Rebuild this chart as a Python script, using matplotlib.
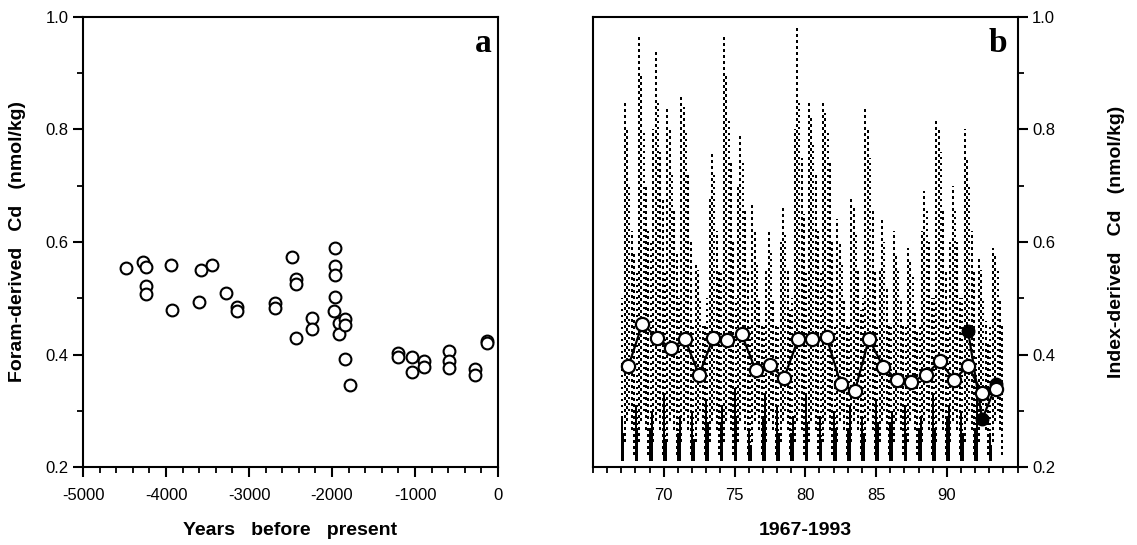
import matplotlib
matplotlib.use("Agg")
import matplotlib.pyplot as plt
from matplotlib.ticker import MultipleLocator

plt.rcParams["font.family"] = ["Liberation Sans", "DejaVu Sans"]

# (a) foram-derived Cd, years before present
foram_age = [-4478, -4277, -4237, -4237, -4237, -3936, -3924, -3582, -3446, -3606,
             -3281, -3145, -3145, -2691, -2691, -2478, -2438, -2438, -2438, -2241,
             -2241, -1968, -1968, -1968, -1968, -1972, -1916, -1916, -1839, -1839,
             -1843, -1787, -1205, -1205, -1036, -1036, -892, -892, -590, -590,
             -590, -273, -273, -129, -129]
foram_cd = [0.553, 0.565, 0.556, 0.522, 0.508, 0.559, 0.480, 0.550, 0.559, 0.494,
            0.510, 0.485, 0.477, 0.491, 0.483, 0.573, 0.535, 0.525, 0.430, 0.465,
            0.446, 0.590, 0.557, 0.541, 0.502, 0.477, 0.456, 0.437, 0.464, 0.452,
            0.392, 0.346, 0.402, 0.395, 0.395, 0.369, 0.389, 0.377, 0.406, 0.389,
            0.376, 0.374, 0.364, 0.424, 0.421]

# (b) index-derived Cd, 1967-1993
years = list(range(1967, 1994))
annual_mean = [0.379, 0.455, 0.430, 0.411, 0.427, 0.364, 0.430, 0.425, 0.436, 0.372,
               0.381, 0.358, 0.428, 0.428, 0.431, 0.348, 0.335, 0.428, 0.378, 0.355,
               0.351, 0.364, 0.388, 0.355, 0.380, 0.331, 0.338]
alt_years = [1991, 1992, 1993]
alt_mean = [0.442, 0.285, 0.347]

# within-year spread of the daily record: sampling times and upper/lower bounds
season = [0.08, 0.25, 0.42, 0.58, 0.75, 0.92]
daily_hi = [
    [0.50, 0.85, 0.80, 0.70, 0.62, 0.58],
    [0.55, 0.97, 0.90, 0.80, 0.70, 0.62],
    [0.60, 0.80, 0.94, 0.85, 0.76, 0.68],
    [0.55, 0.84, 0.80, 0.72, 0.66, 0.58],
    [0.50, 0.86, 0.84, 0.80, 0.72, 0.60],
    [0.45, 0.56, 0.55, 0.50, 0.45, 0.45],
    [0.50, 0.68, 0.76, 0.72, 0.62, 0.55],
    [0.55, 0.97, 0.90, 0.82, 0.74, 0.60],
    [0.50, 0.70, 0.79, 0.74, 0.66, 0.55],
    [0.45, 0.67, 0.62, 0.56, 0.50, 0.45],
    [0.45, 0.55, 0.62, 0.58, 0.50, 0.45],
    [0.45, 0.60, 0.66, 0.62, 0.55, 0.48],
    [0.50, 0.80, 0.98, 0.85, 0.75, 0.65],
    [0.55, 0.85, 0.82, 0.78, 0.72, 0.62],
    [0.55, 0.85, 0.83, 0.80, 0.74, 0.60],
    [0.45, 0.64, 0.60, 0.56, 0.50, 0.45],
    [0.45, 0.68, 0.66, 0.62, 0.55, 0.48],
    [0.50, 0.84, 0.80, 0.75, 0.66, 0.55],
    [0.45, 0.55, 0.64, 0.60, 0.52, 0.45],
    [0.45, 0.62, 0.58, 0.55, 0.50, 0.45],
    [0.45, 0.59, 0.57, 0.54, 0.48, 0.44],
    [0.45, 0.62, 0.69, 0.66, 0.60, 0.50],
    [0.50, 0.82, 0.80, 0.76, 0.66, 0.55],
    [0.45, 0.60, 0.70, 0.66, 0.60, 0.50],
    [0.50, 0.80, 0.75, 0.70, 0.62, 0.55],
    [0.40, 0.57, 0.55, 0.50, 0.46, 0.42],
    [0.45, 0.59, 0.58, 0.55, 0.50, 0.45],
]
daily_lo = [0.21, 0.24, 0.28, 0.30, 0.26, 0.22]
# dense winter minima: two strokes per year
winter_t = [0.02, 0.14]
winter_hi = [
    [0.29, 0.26], [0.31, 0.27], [0.27, 0.30], [0.33, 0.25], [0.26, 0.29],
    [0.30, 0.25], [0.32, 0.28], [0.28, 0.31], [0.34, 0.29], [0.27, 0.24],
    [0.29, 0.33], [0.31, 0.26], [0.26, 0.29], [0.33, 0.28], [0.29, 0.25],
    [0.30, 0.27], [0.27, 0.31], [0.29, 0.26], [0.32, 0.28], [0.28, 0.30],
    [0.31, 0.26], [0.27, 0.29], [0.33, 0.27], [0.29, 0.31], [0.30, 0.26],
    [0.27, 0.33], [0.26, 0.24],
]

fig = plt.figure(figsize=(11.37, 5.45), dpi=100)
ax_a = fig.add_axes([0.073, 0.143, 0.365, 0.826])
ax_b = fig.add_axes([0.5215, 0.143, 0.3735, 0.826])

# ---- panel a
ax_a.plot(foram_age, foram_cd, "o", mfc="white", mec="black", mew=1.5, ms=8.5)
ax_a.set_xlim(-5000, 0)
ax_a.set_ylim(0.2, 1.0)
ax_a.set_xticks([-5000, -4000, -3000, -2000, -1000, 0])
ax_a.set_xticklabels(["-5000", "-4000", "-3000", "-2000", "-1000", "0"])
ax_a.xaxis.set_minor_locator(MultipleLocator(200))
ax_a.set_ylabel("Foram-derived   Cd   (nmol/kg)", fontsize=14, fontweight="bold", labelpad=14)
ax_a.set_xlabel("Years   before   present", fontsize=14, fontweight="bold", labelpad=14)
ax_a.text(0.985, 0.975, "a", transform=ax_a.transAxes, ha="right", va="top",
          family="Liberation Serif", fontsize=24, fontweight="bold")

# ---- panel b: daily record as dotted columns, dense winter minima as solid strokes
for i, yr in enumerate(years):
    x0 = yr - 1900
    for j, s in enumerate(season):
        ax_b.vlines(x0 + s, daily_lo[j], daily_hi[i][j], colors="black", linewidth=1.3,
                    linestyles=[(1.2 * (j % 3), (1.0, 2.6))], antialiased=False)
    ax_b.vlines([x0 + t for t in winter_t], 0.21, winter_hi[i], colors="black",
                linewidth=1.2, antialiased=False)

ax_b.plot([y - 1900 + 0.5 for y in alt_years], alt_mean, "-o", color="black",
          mfc="black", mec="black", lw=1.6, ms=9, zorder=3)
ax_b.plot([y - 1900 + 0.5 for y in years], annual_mean, "-o", color="black",
          mfc="white", mec="black", mew=1.6, lw=1.6, ms=9.5, zorder=4)
ax_b.set_xlim(65, 95)
ax_b.set_ylim(0.2, 1.0)
ax_b.set_xticks([70, 75, 80, 85, 90])
ax_b.xaxis.set_minor_locator(MultipleLocator(1))
ax_b.yaxis.tick_right()
ax_b.yaxis.set_label_position("right")
ax_b.set_ylabel("Index-derived   Cd   (nmol/kg)", fontsize=14, fontweight="bold", labelpad=38)
ax_b.set_xlabel("1967-1993", fontsize=14, fontweight="bold", labelpad=14)
ax_b.text(0.975, 0.975, "b", transform=ax_b.transAxes, ha="right", va="top",
          family="Liberation Serif", fontsize=24, fontweight="bold")

for ax in (ax_a, ax_b):
    ax.yaxis.set_major_locator(MultipleLocator(0.2))
    ax.yaxis.set_minor_locator(MultipleLocator(0.1))
    ax.yaxis.set_major_formatter(plt.FormatStrFormatter("%.1f"))
    ax.tick_params(which="major", direction="out", length=7, width=1.5, labelsize=12)
    ax.tick_params(which="minor", direction="out", length=4, width=1.3)
    ax.tick_params(axis="x", pad=8)
    for sp in ax.spines.values():
        sp.set_linewidth(1.5)

fig.savefig("out.png", dpi=100)
